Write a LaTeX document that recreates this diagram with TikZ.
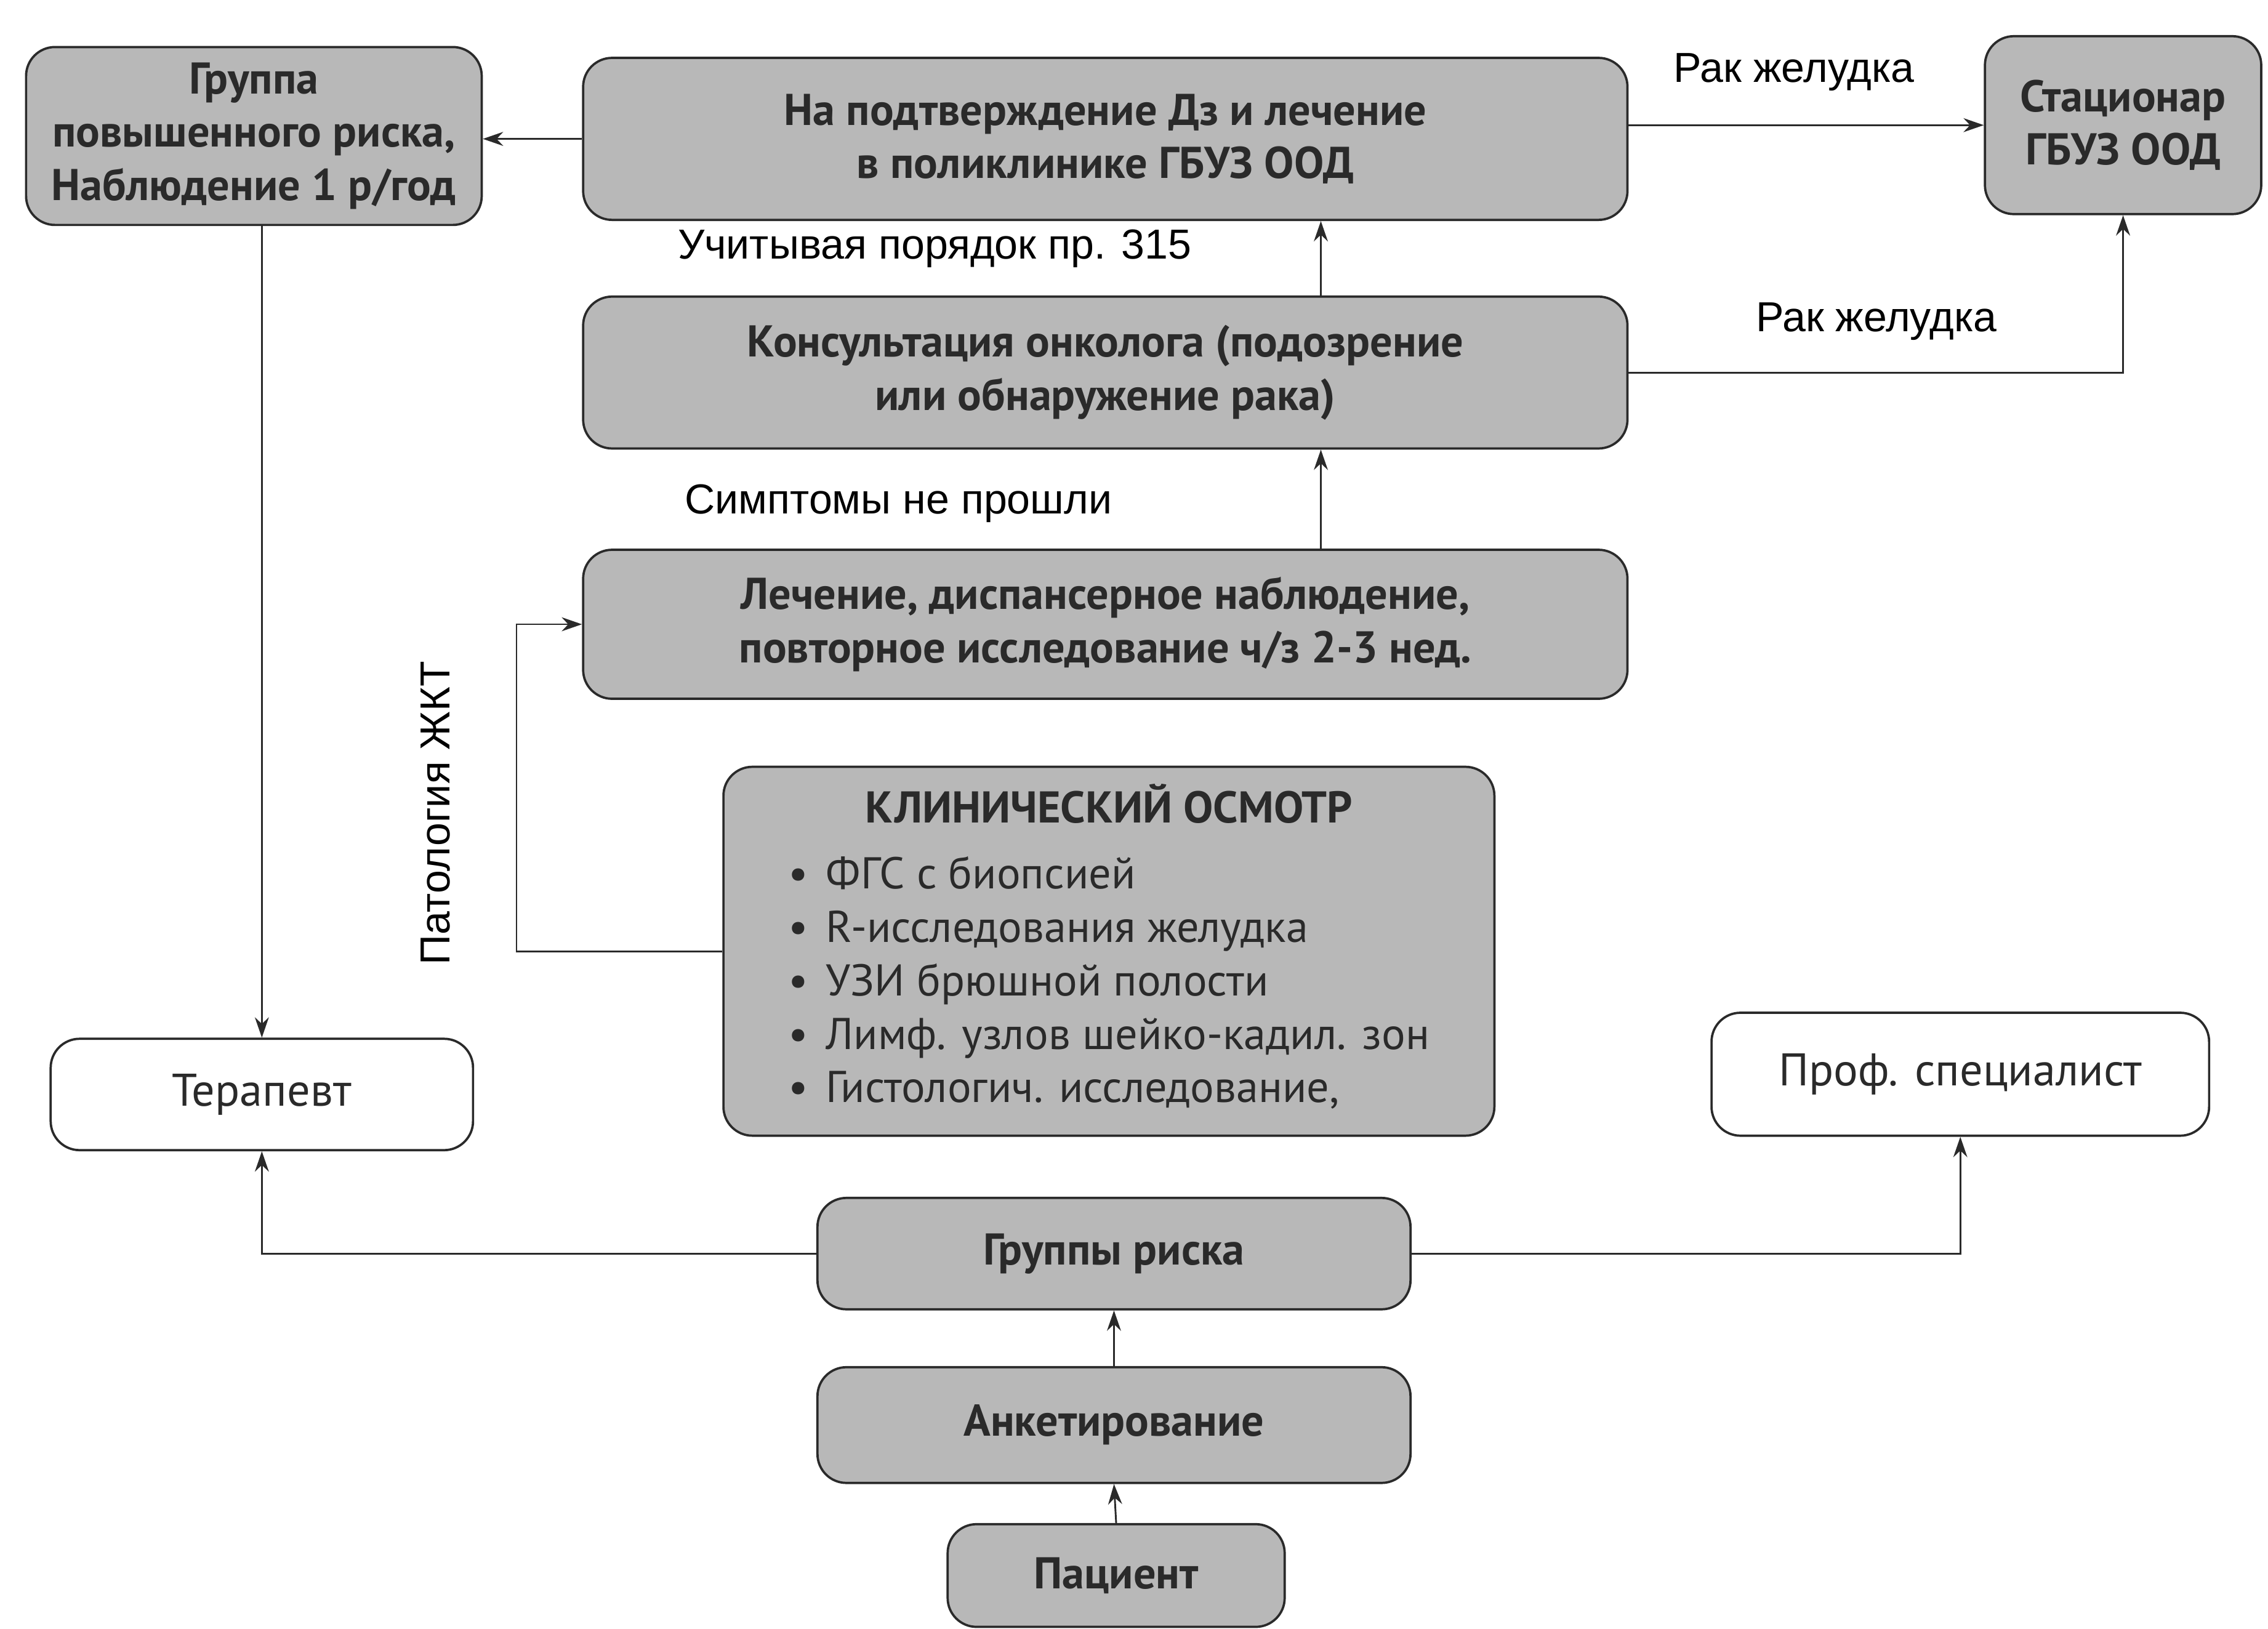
\documentclass[tikz,border=0pt]{standalone}
\usepackage{fontspec}
\setmainfont{PT Sans}
\newfontfamily\labelfont{Liberation Sans}
\usetikzlibrary{arrows.meta}
\definecolor{boxgray}{HTML}{B8B8B8}
\definecolor{inkc}{HTML}{2A2A2A}
\tikzset{
  gbox/.style={draw=inkc, line width=0.9pt, fill=boxgray, rounded corners=0.4cm, align=center,
    font=\bfseries\fontsize{17.5}{21}\selectfont, text=inkc, inner sep=2pt},
  wbox/.style={gbox, fill=white, font=\fontsize{18}{21}\selectfont},
  conn/.style={draw=inkc, line width=0.7pt},
  arr/.style={conn, -{Stealth[length=8pt,width=5.5pt]}},
  lbl/.style={font=\labelfont\fontsize{16.5}{19}\selectfont, text=black, inner sep=1pt}
}
\begin{document}
\begin{tikzpicture}
\useasboundingbox[fill=white] (0,0) rectangle (31.36,-22.52);
\begin{scope}[x=0.02cm,y=-0.02cm]
\node[gbox, minimum width=6.3cm, minimum height=2.46cm] (grp) at (175.5,94) {Группа\\повышенного риска,\\Наблюдение 1 р/год};
\node[gbox, minimum width=14.44cm, minimum height=2.24cm] (dz) at (764,96) {На подтверждение Дз и лечение\\в поликлинике ГБУЗ ООД};
\node[gbox, minimum width=3.82cm, minimum height=2.46cm] (stac) at (1467.5,86.5) {Стационар\\ГБУЗ ООД};
\node[gbox, minimum width=14.44cm, minimum height=2.1cm] (kons) at (764,257.5) {Консультация онколога (подозрение\\или обнаружение рака)};
\node[gbox, minimum width=14.44cm, minimum height=2.06cm] (lech) at (764,431.5) {Лечение, диспансерное наблюдение,\\повторное исследование ч/з 2-3 нед.};
\node[gbox, minimum width=10.66cm, minimum height=5.1cm] (klin) at (766.5,657.5) {%
  \begin{tabular}{@{}c@{}}КЛИНИЧЕСКИЙ ОСМОТР\\[5pt]
  \mdseries\begin{tabular}{@{}l@{\hspace{7pt}}l@{}}
  • & ФГС с биопсией\\
  • & R-исследования желудка\\
  • & УЗИ брюшной полости\\
  • & Лимф. узлов шейко-кадил. зон\\
  • & Гистологич. исследование,
  \end{tabular}\end{tabular}};
\node[wbox, minimum width=5.84cm, minimum height=1.54cm] (ter) at (181,756.5) {Терапевт};
\node[wbox, minimum width=6.88cm, minimum height=1.7cm] (prof) at (1355,742.5) {Проф. специалист};
\node[gbox, minimum width=8.2cm, minimum height=1.54cm] (rg) at (770,866.5) {Группы риска};
\node[gbox, minimum width=8.2cm, minimum height=1.6cm] (ank) at (770,985) {Анкетирование};
\node[gbox, minimum width=4.66cm, minimum height=1.42cm] (pac) at (771.5,1089) {Пациент};

\coordinate (vx) at (913,0);
\coordinate (lx) at (357,0);

\node[lbl] (l1) at (1240,50) {Рак желудка};
\node[lbl] (l2) at (1297,222) {Рак желудка};
\node[lbl] (l3) at (646,172) {Учитывая порядок пр. 315};
\node[lbl] (l4) at (621,348) {Симптомы не прошли};
\node[lbl, rotate=90] (l5) at (301,562) {Патология ЖКТ};

\draw[arr] (dz.west) -- (dz.west -| grp.east);
\draw[arr] (dz.east |- stac.west) -- (stac.west);
\draw[arr] (kons.east) -| (stac.south);
\draw[arr] (kons.north -| vx) -- (dz.south -| vx);
\draw[arr] (lech.north -| vx) -- (kons.south -| vx);
\draw[arr] (klin.west) -- (klin.west -| lx) |- (lech.west);
\draw[arr] (grp.south -| ter.north) -- (ter.north);
\draw[arr] (rg.west) -| (ter.south);
\draw[arr] (rg.east) -| (prof.south);
\draw[arr] (ank.north) -- (rg.south);
\draw[arr] (pac.north) -- (ank.south);
\end{scope}
\end{tikzpicture}
\end{document}
